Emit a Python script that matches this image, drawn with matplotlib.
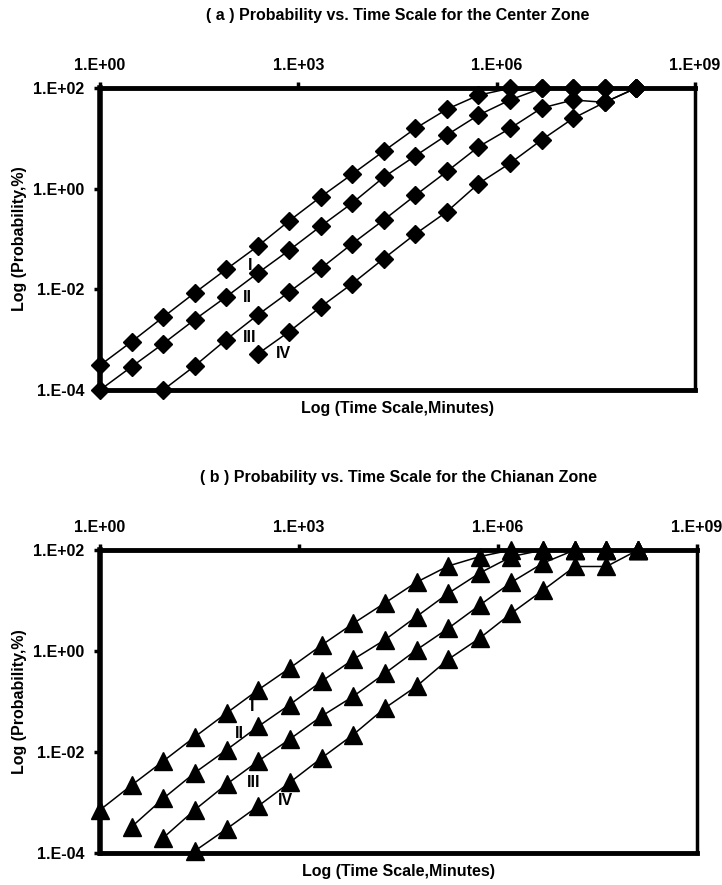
import numpy as np
import matplotlib.pyplot as plt
from matplotlib.ticker import FixedLocator, FixedFormatter, NullLocator

plt.rcParams['font.family'] = ['Liberation Sans', 'DejaVu Sans']
plt.rcParams['font.weight'] = 'bold'

# time scale, minutes (x3 steps)
t = [1, 3, 9, 27, 81, 243, 729, 2187, 6561, 19683, 59049, 177147,
     531441, 1594323, 4782969, 14348907, 43046721, 129140163]

#------------------ (a) center zone, probability %
a_I = [3.1e-4, 9.1e-4, 2.8e-3, 8.5e-3, 0.025, 0.072, 0.23, 0.69, 1.95, 5.6,
       15.8, 38, 72, 99, 100, 100, 100, 100]
a_II = [1.0e-4, 2.9e-4, 8.3e-4, 2.5e-3, 7.1e-3, 0.021, 0.060, 0.18, 0.52, 1.7,
        4.5, 11.7, 29, 58, 99, 100, 100, 100]
a_III = [1.0e-4, 3.0e-4, 1.0e-3, 3.1e-3, 8.9e-3, 0.026, 0.081, 0.24, 0.74,
         2.2, 6.8, 15.8, 40, 58, 52, 100]
a_IV = [5.2e-4, 1.45e-3, 4.5e-3, 0.013, 0.041, 0.126, 0.35, 1.26, 3.2, 9.3,
        25, 52, 100]

#------------------ (b) chianan zone
b_I = [7.1e-4, 2.2e-3, 6.6e-3, 0.020, 0.059, 0.17, 0.46, 1.3, 3.5, 8.9, 23,
       48, 74, 100, 100, 100, 100, 100]
b_II = [3.3e-4, 1.2e-3, 3.9e-3, 0.011, 0.032, 0.087, 0.25, 0.68, 1.66, 4.8,
        13.8, 35, 74, 100, 100, 100, 100]
b_III = [2.0e-4, 7.2e-4, 2.3e-3, 6.6e-3, 0.018, 0.051, 0.126, 0.36, 1.05, 2.8,
         8.1, 23, 55, 100, 100, 100]
b_IV = [1.1e-4, 3.0e-4, 8.5e-4, 2.5e-3, 7.6e-3, 0.022, 0.074, 0.20, 0.68, 1.8,
        5.6, 16, 47, 47, 100]

xt = [1, 1e3, 1e6, 1e9]
xt_lab = ['1.E+00', '1.E+03', '1.E+06', '1.E+09']
yt = [1e-4, 1e-2, 1, 1e2]
yt_lab = ['1.E-04', '1.E-02', '1.E+00', '1.E+02']

FS = 11.5

fig = plt.figure(figsize=(7.22, 8.85), dpi=100)


def panel(rect, series, start, marker, ms, labels, labpos, title):
    ax = fig.add_axes(rect)
    for s, k0 in zip(series, start):
        ax.plot(t[k0:k0 + len(s)], s, color='black', lw=1.1, marker=marker,
                ms=ms, mfc='black', mec='black', clip_on=False, zorder=3)
    ax.set_xscale('log')
    ax.set_yscale('log')
    ax.set_xlim(1, 1e9)
    ax.set_ylim(1e-4, 1e2)
    ax.xaxis.tick_top()
    ax.xaxis.set_major_locator(FixedLocator(xt))
    ax.xaxis.set_major_formatter(FixedFormatter(xt_lab))
    ax.yaxis.set_major_locator(FixedLocator(yt))
    ax.yaxis.set_major_formatter(FixedFormatter(yt_lab))
    ax.xaxis.set_minor_locator(NullLocator())
    ax.yaxis.set_minor_locator(NullLocator())
    ax.tick_params(axis='both', labelsize=FS, length=4, width=2.5,
                   direction='out', pad=7)
    for lb in ax.get_xticklabels() + ax.get_yticklabels():
        lb.set_fontweight('bold')
    ax.spines['left'].set_linewidth(4)
    ax.spines['top'].set_linewidth(3.5)
    ax.spines['bottom'].set_linewidth(3.5)
    ax.spines['right'].set_linewidth(2.5)
    for sp in ax.spines.values():
        sp.set_zorder(2)
    for txt, (x, y) in zip(labels, labpos):
        ax.text(x, y, txt, fontsize=FS, fontweight='bold', ha='center',
                va='center')
    ax.set_ylabel('Log (Probability,%)', fontsize=FS, fontweight='bold',
                  labelpad=5)
    ax.text(0.5, -0.06, 'Log (Time Scale,Minutes)', transform=ax.transAxes,
            ha='center', va='center', fontsize=FS, fontweight='bold')
    ax.text(0.5, 1.24, title, transform=ax.transAxes, ha='center',
            va='center', fontsize=FS, fontweight='bold')
    return ax


panel([0.1385, 0.5593, 0.824, 0.3412], [a_I, a_II, a_III, a_IV],
      [0, 0, 2, 5], 'D', 9, ['I', 'II', 'III', 'IV'],
      [(185, 0.030), (167, 0.0069), (185, 0.0011), (589, 0.00054)],
      '( a ) Probability vs. Time Scale for the Center Zone')

panel([0.1385, 0.0362, 0.827, 0.3424], [b_I, b_II, b_III, b_IV],
      [0, 1, 2, 3], '^', 13, ['I', 'II', 'III', 'IV'],
      [(198, 0.079), (128, 0.023), (204, 0.0025), (630, 0.0011)],
      '( b ) Probability vs. Time Scale for the Chianan Zone')

fig.savefig('out.png', dpi=100)
